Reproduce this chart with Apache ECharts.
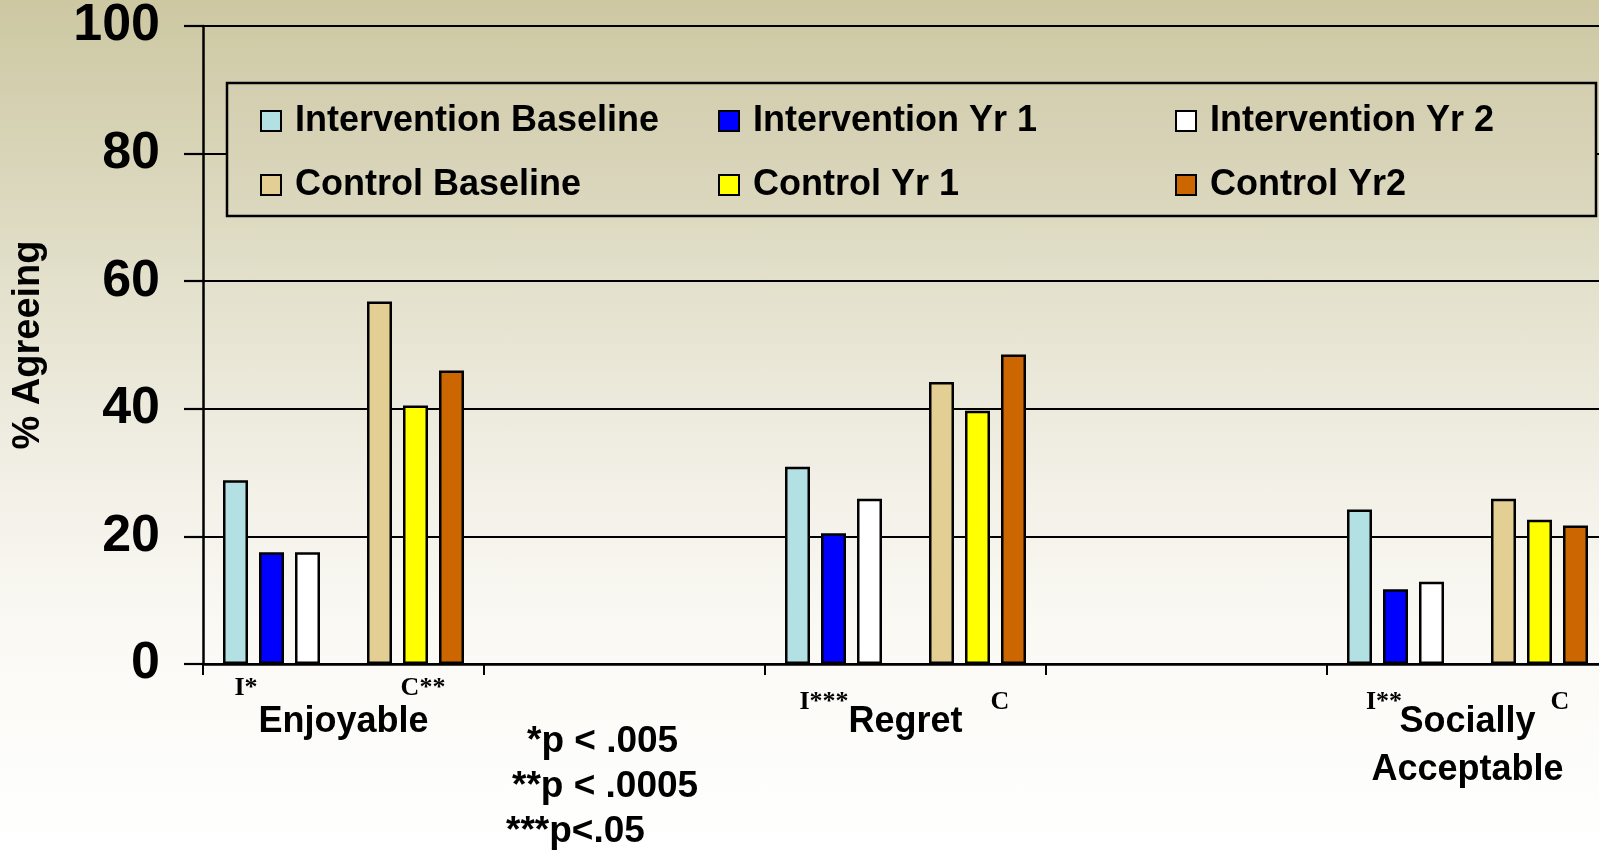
<!DOCTYPE html>
<html>
<head>
<meta charset="utf-8">
<script src="https://cdn.jsdelivr.net/npm/echarts@6/dist/echarts.min.js"></script>
<style>
  html, body { margin: 0; padding: 0; overflow: hidden; width: 1599px; height: 850px; }
  /* the plot runs slightly past the right edge of the window */
  #chart {
    width: 1608px; height: 850px;
    background: linear-gradient(to bottom, #cdc8a2 0%, #d6d2b4 15%, #e5e2cf 36%, #f1efe5 55%, #faf9f4 74%, #ffffff 100%);
  }
</style>
</head>
<body>
<div id="chart"></div>
<script>
// Attitude items on the category axis; blank slots separate the groups
const categories = ['Enjoyable', '', 'Regret', '', 'Socially\nAcceptable'];

// % agreeing per group and wave
const interventionBaseline = [28.8, null, 30.9, null, 24.2];
const interventionYr1      = [17.5, null, 20.5, null, 11.7];
const interventionYr2      = [17.5, null, 25.9, null, 12.9];
const controlBaseline      = [56.8, null, 44.2, null, 25.9];
const controlYr1           = [40.5, null, 39.7, null, 22.6];
const controlYr2           = [46.0, null, 48.5, null, 21.7];

const yTicks = [0, 20, 40, 60, 80, 100];

const seriesNames = ['Intervention Baseline', 'Intervention Yr 1', 'Intervention Yr 2',
                     'Control Baseline', 'Control Yr 1', 'Control Yr2'];
const seriesColors = ['#b3e0e3', '#0000ff', '#ffffff', '#e3cf93', '#ffff00', '#cc6600'];
const seriesValues = [interventionBaseline, interventionYr1, interventionYr2,
                      controlBaseline, controlYr1, controlYr2];

const SANS = '"Liberation Sans", Arial, Helvetica, sans-serif';
const SERIF = '"Liberation Serif", "Times New Roman", serif';

function barSeries(i) {
  return {
    name: seriesNames[i],
    type: 'bar',
    barWidth: 25,
    barGap: '44%',
    data: seriesValues[i],
    itemStyle: { color: seriesColors[i], borderColor: '#000', borderWidth: 2.5 },
    emphasis: { disabled: true }
  };
}

const series = [
  barSeries(0), barSeries(1), barSeries(2),
  // empty slot between the intervention and control bars
  { name: 'gap', type: 'bar', barWidth: 25, barGap: '44%', data: categories.map(() => null), silent: true },
  barSeries(3), barSeries(4), barSeries(5)
];

// one legend column per wave: intervention on top row, control below
function legendColumn(left, names) {
  return {
    left: left,
    top: 101,
    orient: 'vertical',
    padding: 0,
    icon: 'rect',
    itemWidth: 20,
    itemHeight: 20,
    itemGap: 24,
    z: 20,
    selectedMode: false,
    data: names,
    itemStyle: { borderColor: '#000', borderWidth: 2 },
    textStyle: {
      fontFamily: SANS, fontWeight: 'bold', fontSize: 36, color: '#000',
      lineHeight: 40, padding: [0, 0, 0, 9]
    }
  };
}

function note(text, x, y, font) {
  return {
    type: 'text', x: x, y: y, z: 30,
    style: { text: text, font: font, fill: '#000', align: 'center', verticalAlign: 'middle' }
  };
}
const starFont = 'bold 26px ' + SERIF;
const pFont = 'bold 37px ' + SANS;

const chart = echarts.init(document.getElementById('chart'), null, { renderer: 'canvas' });
chart.setOption({
  backgroundColor: 'transparent',
  animation: false,
  grid: { left: 203, right: 0, top: 26, bottom: 186, containLabel: false },
  legend: [
    legendColumn(260, [seriesNames[0], seriesNames[3]]),
    legendColumn(718, [seriesNames[1], seriesNames[4]]),
    legendColumn(1175, [seriesNames[2], seriesNames[5]])
  ],
  xAxis: {
    type: 'category',
    data: categories,
    axisLine: { lineStyle: { color: '#000', width: 2.5 } },
    axisTick: { show: true, length: 11, lineStyle: { color: '#000', width: 2 } },
    axisLabel: {
      interval: 0, margin: 34, color: '#000', fontFamily: SANS, fontWeight: 'bold',
      fontSize: 36, lineHeight: 48, verticalAlign: 'top'
    },
    splitLine: { show: false }
  },
  yAxis: {
    type: 'value',
    min: yTicks[0], max: yTicks[yTicks.length - 1], interval: 20,
    name: '% Agreeing',
    nameLocation: 'middle',
    nameRotate: 90,
    nameGap: 155,
    nameTextStyle: { fontFamily: SANS, fontWeight: 'bold', fontSize: 38, color: '#000' },
    axisLine: { show: true, lineStyle: { color: '#000', width: 2.5 } },
    axisTick: { show: true, length: 19, lineStyle: { color: '#000', width: 2.2 } },
    axisLabel: {
      margin: 43, color: '#000', fontFamily: SANS, fontWeight: 'bold', fontSize: 52,
      padding: [6, 0, 0, 0]
    },
    splitLine: { show: true, lineStyle: { color: '#000', width: 2.2 } }
  },
  graphic: [
    // legend frame (covers the 80% gridline)
    {
      type: 'rect', z: 10,
      shape: { x: 227, y: 83, width: 1369, height: 133 },
      style: {
        fill: new echarts.graphic.LinearGradient(0, 0, 0, 1, [
          { offset: 0, color: '#d3ceaf' }, { offset: 1, color: '#dcd8bf' }
        ]),
        stroke: '#000', lineWidth: 2.5
      }
    },
    note('I*', 246, 688, starFont),
    note('C**', 423, 688, starFont),
    note('I***', 824, 702, starFont),
    note('C', 1000, 702, starFont),
    note('I**', 1384, 702, starFont),
    note('C', 1560, 702, starFont),
    { type: 'text', x: 527, y: 742, z: 30, style: { text: '*p < .005', font: pFont, fill: '#000', align: 'left', verticalAlign: 'middle' } },
    { type: 'text', x: 512, y: 787, z: 30, style: { text: '**p < .0005', font: pFont, fill: '#000', align: 'left', verticalAlign: 'middle' } },
    { type: 'text', x: 506, y: 832, z: 30, style: { text: '***p<.05', font: pFont, fill: '#000', align: 'left', verticalAlign: 'middle' } }
  ],
  series: series
});
</script>
</body>
</html>
